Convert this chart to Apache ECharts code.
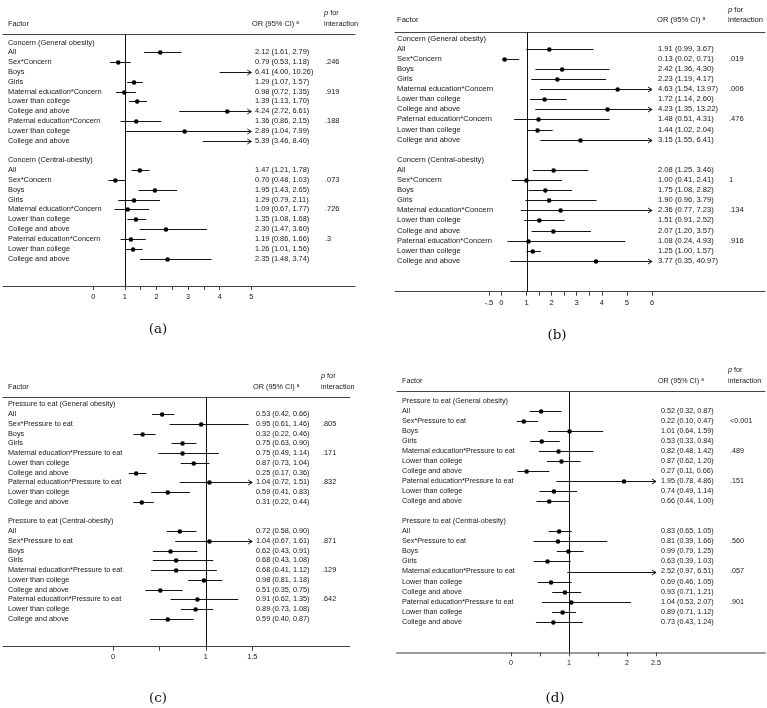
<!DOCTYPE html>
<html>
<head>
<meta charset="utf-8">
<script src="https://cdn.jsdelivr.net/npm/echarts@6/dist/echarts.min.js"></script>
<style>
  html, body { margin: 0; padding: 0; background: #fff; }
  #chart { width: 767px; height: 708px; }
</style>
</head>
<body>
<div id="chart"></div>
<script>
// row labels shared by (a)/(b) and by (c)/(d)
const concernFactors = ['All', 'Sex*Concern', 'Boys', 'Girls', 'Maternal education*Concern', 'Lower than college',
  'College and above', 'Paternal education*Concern', 'Lower than college', 'College and above'];
const pressureFactors = ['All', 'Sex*Pressure to eat', 'Boys', 'Girls', 'Maternal education*Pressure to eat',
  'Lower than college', 'College and above', 'Paternal education*Pressure to eat', 'Lower than college', 'College and above'];
const concernSections = ['Concern (General obesity)', 'Concern (Central-obesity)'];
const pressureSections = ['Pressure to eat (General obesity)', 'Pressure to eat (Central-obesity)'];

// (a) – first 10 general obesity, next 10 central obesity
const orA = [2.12, 0.79, 6.41, 1.29, 0.98, 1.39, 4.24, 1.36, 2.89, 5.39, 1.47, 0.70, 1.95, 1.29, 1.09, 1.35, 2.30, 1.19, 1.26, 2.35];
const loA = [1.61, 0.53, 4.00, 1.07, 0.72, 1.13, 2.72, 0.86, 1.04, 3.46, 1.21, 0.48, 1.43, 0.79, 0.67, 1.08, 1.47, 0.86, 1.01, 1.48];
const hiA = [2.79, 1.18, 10.26, 1.57, 1.35, 1.70, 6.61, 2.15, 7.99, 8.40, 1.78, 1.03, 2.65, 2.11, 1.77, 1.68, 3.60, 1.66, 1.56, 3.74];
const pA = ['', '.246', '', '', '.919', '', '', '.188', '', '', '', '.073', '', '', '.726', '', '', '.3', '', ''];

// (b)
const orB = [1.91, 0.13, 2.42, 2.23, 4.63, 1.72, 4.23, 1.48, 1.44, 3.15, 2.08, 1.00, 1.75, 1.90, 2.36, 1.51, 2.07, 1.08, 1.25, 3.77];
const loB = [0.99, 0.02, 1.36, 1.19, 1.54, 1.14, 1.35, 0.51, 1.02, 1.55, 1.25, 0.41, 1.08, 0.96, 0.77, 0.91, 1.20, 0.24, 1.00, 0.35];
const hiB = [3.67, 0.71, 4.30, 4.17, 13.97, 2.60, 13.22, 4.31, 2.04, 6.41, 3.46, 2.41, 2.82, 3.79, 7.23, 2.52, 3.57, 4.93, 1.57, 40.97];
const pB = ['', '.019', '', '', '.006', '', '', '.476', '', '', '', '1', '', '', '.134', '', '', '.916', '', ''];

// (c)
const orC = [0.53, 0.95, 0.32, 0.75, 0.75, 0.87, 0.25, 1.04, 0.59, 0.31, 0.72, 1.04, 0.62, 0.68, 0.68, 0.98, 0.51, 0.91, 0.89, 0.59];
const loC = [0.42, 0.61, 0.22, 0.63, 0.49, 0.73, 0.17, 0.72, 0.41, 0.22, 0.58, 0.67, 0.43, 0.43, 0.41, 0.81, 0.35, 0.62, 0.73, 0.40];
const hiC = [0.66, 1.46, 0.46, 0.90, 1.14, 1.04, 0.36, 1.51, 0.83, 0.44, 0.90, 1.61, 0.91, 1.08, 1.12, 1.18, 0.75, 1.35, 1.08, 0.87];
const pC = ['', '.805', '', '', '.171', '', '', '.832', '', '', '', '.871', '', '', '.129', '', '', '.642', '', ''];

// (d)
const orD = [0.52, 0.22, 1.01, 0.53, 0.82, 0.87, 0.27, 1.95, 0.74, 0.66, 0.83, 0.81, 0.99, 0.63, 2.52, 0.69, 0.93, 1.04, 0.89, 0.73];
const loD = [0.32, 0.10, 0.64, 0.33, 0.48, 0.62, 0.11, 0.78, 0.49, 0.44, 0.65, 0.39, 0.79, 0.39, 0.97, 0.46, 0.71, 0.53, 0.71, 0.43];
const hiD = [0.87, 0.47, 1.59, 0.84, 1.42, 1.20, 0.66, 4.86, 1.14, 1.00, 1.05, 1.66, 1.25, 1.03, 6.51, 1.05, 1.21, 2.07, 1.12, 1.24];
const pD = ['', '<0.001', '', '', '.489', '', '', '.151', '', '', '', '.560', '', '', '.057', '', '', '.901', '', ''];

// axis ticks / labels
const ticksA = [0, 1, 1.5, 2, 2.5, 3, 3.5, 4, 5];
const labelsA = [0, 1, 2, 3, 4, 5];
const ticksB = [-0.5, 0, 1, 1.5, 2, 2.5, 3, 3.5, 4, 5, 6];
const labelsB = [-0.5, 0, 1, 2, 3, 4, 5, 6];
const ticksC = [0, 0.5, 1, 1.5];
const labelsC = [0, 1, 1.5];
const ticksD = [0, 0.5, 1, 1.5, 2, 2.5];
const labelsD = [0, 1, 2, 2.5];
const refValue = 1;

const FONT = '"Liberation Sans", Arial, sans-serif';
const INK = '#151515';

// layout (pixels)
const panels = [
  { letter: '(a)', factors: concernFactors, sections: concernSections, or: orA, lo: loA, hi: hiA, p: pA,
    ticks: ticksA, labels: labelsA, cap: 5,
    left: 3, right: 355, top: 34, bottom: 286, zero: 93.3, unit: 31.6, row1: 52.3, step: 9.82,
    colFactor: 8, colOR: 255, colORHead: 252, colP: 325, colPHead: 324, font: 7.4, headY: 23.5,
    letterX: 158, letterY: 329, axisColor: '#444', axisWidth: 1 },
  { letter: '(b)', factors: concernFactors, sections: concernSections, or: orB, lo: loB, hi: hiB, p: pB,
    ticks: ticksB, labels: labelsB, cap: 6,
    left: 395, right: 765, top: 32, bottom: 291.7, zero: 501.4, unit: 25.1, row1: 48.7, step: 10.1,
    colFactor: 397, colOR: 658, colORHead: 657, colP: 729, colPHead: 728, font: 7.6, headY: 20,
    letterX: 557, letterY: 335, axisColor: '#444', axisWidth: 1 },
  { letter: '(c)', factors: pressureFactors, sections: pressureSections, or: orC, lo: loC, hi: hiC, p: pC,
    ticks: ticksC, labels: labelsC, cap: 1.5,
    left: 3, right: 350, top: 397.7, bottom: 646.7, zero: 113, unit: 92.8, row1: 414, step: 9.75,
    colFactor: 8, colOR: 256, colORHead: 253, colP: 322, colPHead: 321, font: 7.3, headY: 386.7,
    letterX: 158, letterY: 698, axisColor: '#444', axisWidth: 1 },
  { letter: '(d)', factors: pressureFactors, sections: pressureSections, or: orD, lo: loD, hi: hiD, p: pD,
    ticks: ticksD, labels: labelsD, cap: 2.5,
    left: 397, right: 765, top: 391.7, bottom: 652.3, zero: 511, unit: 58, row1: 410.7, step: 10.05,
    colFactor: 402, colOR: 661, colORHead: 658, colP: 730, colPHead: 728, font: 7.2, headY: 380.7,
    letterX: 555, letterY: 698, axisColor: '#9a9a9a', axisWidth: 2 }
];

// row index: section header at 0 and 12, rows at 1..10 and 13..22
function rowOf(i) { return i < 10 ? i + 1 : i + 3; }
function fmt(v) { return v.toFixed(2); }

const chart = echarts.init(document.getElementById('chart'));
const option = {
  animation: false,
  backgroundColor: '#fff',
  grid: [], xAxis: [], yAxis: [], series: [], graphic: []
};

panels.forEach((p, k) => {
  const xMin = (p.left - p.zero) / p.unit;
  const xMax = (p.right - p.zero) / p.unit;
  const yMin = 1 + (p.top - p.row1) / p.step;
  const yMax = 1 + (p.bottom - p.row1) / p.step;

  option.grid.push({ left: p.left, top: p.top, width: p.right - p.left, height: p.bottom - p.top });
  option.xAxis.push({
    type: 'value', gridIndex: k, position: 'bottom', min: xMin, max: xMax,
    axisLine: { show: true, onZero: false, lineStyle: { color: p.axisColor, width: p.axisWidth } },
    axisTick: { show: true, length: 4, customValues: p.ticks, lineStyle: { color: '#444' } },
    axisLabel: { customValues: p.labels, margin: 7, color: INK, fontSize: p.font, fontFamily: FONT,
      formatter: v => (v === -0.5 ? '-.5' : String(v)) },
    splitLine: { show: false }
  });
  // header rule on top
  option.xAxis.push({
    type: 'value', gridIndex: k, position: 'top', min: xMin, max: xMax,
    axisLine: { show: true, onZero: false, lineStyle: { color: '#444', width: 1 } },
    axisTick: { show: false }, axisLabel: { show: false }, splitLine: { show: false }
  });
  option.yAxis.push({ type: 'value', gridIndex: k, inverse: true, min: yMin, max: yMax, show: false });

  const textStyle = (text, extra) => Object.assign({
    text: text, fill: INK, fontSize: p.font, fontFamily: FONT, align: 'left', verticalAlign: 'middle'
  }, extra || {});

  // reference line at OR = 1
  option.series.push({
    type: 'custom', xAxisIndex: 2 * k, yAxisIndex: k, data: [[refValue]],
    renderItem: (params, api) => {
      const a = api.coord([api.value(0), yMin]);
      const b = api.coord([api.value(0), yMax]);
      const x = Math.round(a[0]) + 0.5;
      return { type: 'line', shape: { x1: x, y1: a[1], x2: x, y2: b[1] }, style: { stroke: '#111', lineWidth: 1 } };
    }
  });

  // section headers
  option.series.push({
    type: 'custom', xAxisIndex: 2 * k, yAxisIndex: k, data: [[0, 0], [0, 12]],
    renderItem: (params, api) => {
      const c = api.coord([0, api.value(1)]);
      return { type: 'text', x: p.colFactor, y: c[1], style: textStyle(p.sections[params.dataIndex]) };
    }
  });

  // estimate rows
  const rows = p.or.map((v, i) => [rowOf(i), v, p.lo[i], p.hi[i]]);
  option.series.push({
    type: 'custom', xAxisIndex: 2 * k, yAxisIndex: k, data: rows,
    renderItem: (params, api) => {
      const i = params.dataIndex;
      const row = api.value(0), est = api.value(1), lo = api.value(2), hi = api.value(3);
      const a = api.coord([lo, row]);
      const b = api.coord([Math.min(hi, p.cap), row]);
      const y = Math.round(a[1]) + 0.5;
      const kids = [
        { type: 'line', shape: { x1: a[0], y1: y, x2: b[0], y2: y }, style: { stroke: INK, lineWidth: 1 } }
      ];
      if (hi > p.cap) {
        kids.push({ type: 'polyline', shape: { points: [[b[0] - 4, y - 2.5], [b[0], y], [b[0] - 4, y + 2.5]] },
          style: { stroke: INK, fill: null, lineWidth: 1 } });
      }
      if (est <= p.cap) {
        const c = api.coord([est, row]);
        kids.push({ type: 'circle', shape: { cx: c[0], cy: y, r: 2.3 }, style: { fill: '#000' } });
      }
      kids.push({ type: 'text', x: p.colFactor, y: a[1], style: textStyle(p.factors[i % 10]) });
      kids.push({ type: 'text', x: p.colOR, y: a[1],
        style: textStyle(fmt(p.or[i]) + ' (' + fmt(p.lo[i]) + ', ' + fmt(p.hi[i]) + ')') });
      if (p.p[i]) kids.push({ type: 'text', x: p.colP, y: a[1], style: textStyle(p.p[i]) });
      return { type: 'group', children: kids };
    }
  });

  // column headers and panel letter
  option.graphic.push(
    { type: 'text', x: p.colFactor, y: p.headY, style: textStyle('Factor') },
    { type: 'text', x: p.colORHead, y: p.headY, style: textStyle('{t|OR (95% CI)} {s|a}', {
      rich: { t: { fontSize: p.font, fontFamily: FONT, fill: INK },
              s: { fontSize: p.font * 0.65, fontFamily: FONT, fill: INK, verticalAlign: 'top' } } }) },
    { type: 'text', x: p.colPHead, y: p.headY - 10.5, style: textStyle('{i|p} for', {
      rich: { i: { fontStyle: 'italic', fontSize: p.font, fontFamily: FONT, fill: INK } } }) },
    { type: 'text', x: p.colPHead, y: p.headY, style: textStyle('interaction') },
    { type: 'text', x: p.letterX, y: p.letterY, style: { text: p.letter, fill: '#111', fontSize: 13.5,
      fontFamily: '"DejaVu Serif", serif', align: 'center', verticalAlign: 'middle' } }
  );
});

chart.setOption(option);
</script>
</body>
</html>
